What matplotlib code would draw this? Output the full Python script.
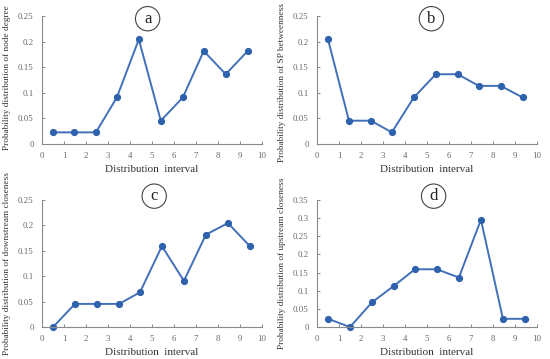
import matplotlib
matplotlib.use("Agg")
import matplotlib.pyplot as plt
from matplotlib.ticker import FormatStrFormatter

# === Data ===
x_ab = [0.5, 1.45, 2.45, 3.4, 4.4, 5.4, 6.4, 7.35, 8.35, 9.35]
x_cd = [0.5, 1.5, 2.5, 3.5, 4.45, 5.45, 6.45, 7.45, 8.45, 9.45]

node_degree = [0.0227, 0.0227, 0.0227, 0.0909, 0.2045, 0.0455, 0.0909, 0.1818, 0.1364, 0.1818]
sp_betweenness = [0.2045, 0.0455, 0.0455, 0.0227, 0.0909, 0.1364, 0.1364, 0.1136, 0.1136, 0.0909]
down_closeness = [0.0, 0.0455, 0.0455, 0.0455, 0.0682, 0.1591, 0.0909, 0.1818, 0.2045, 0.1591]
up_closeness = [0.0227, 0.0, 0.0682, 0.1136, 0.1591, 0.1591, 0.1364, 0.2955, 0.0227, 0.0227]

panels = [
    ("a", x_ab, node_degree, "Probability distribution of node degree", 0.25),
    ("b", x_ab, sp_betweenness, "Probability distribution of SP betweenness", 0.25),
    ("c", x_cd, down_closeness, "Probability distribution of downstream closeness", 0.25),
    ("d", x_cd, up_closeness, "Probability distribution of upstream closeness", 0.35),
]

plt.rcParams["font.family"] = ["Liberation Serif", "DejaVu Serif"]

fig = plt.figure(figsize=(5.5, 3.59), dpi=100)
rects = [
    [0.0764, 0.599, 0.40, 0.356],
    [0.5764, 0.599, 0.40, 0.356],
    [0.0764, 0.089, 0.40, 0.354],
    [0.5764, 0.089, 0.40, 0.354],
]
letter_pos = [(0.48, 0.98), (0.52, 0.98), (0.51, 1.03), (0.53, 1.03)]
ylab_y = [0.52, 0.48, 0.5, 0.5]

axis_col = "#8a8a8a"
line_col = "#4270b8"

for (letter, xs, ys, ylab, ymax), rect, lp, ly in zip(panels, rects, letter_pos, ylab_y):
    ax = fig.add_axes(rect)
    ax.plot(xs, ys, color=line_col, lw=1.4, marker="o", ms=4.2,
            markerfacecolor="#2f62ad", markeredgecolor="#2f62ad", clip_on=False)
    ax.set_xlim(0, 10)
    ax.set_ylim(0, ymax)
    ax.set_xticks(range(0, 11))
    ax.set_yticks([i * 0.05 for i in range(int(round(ymax / 0.05)) + 1)])
    ax.yaxis.set_major_formatter(FormatStrFormatter("%g"))
    for s in ["top", "right"]:
        ax.spines[s].set_visible(False)
    for s in ["left", "bottom"]:
        ax.spines[s].set_color(axis_col)
        ax.spines[s].set_linewidth(0.8)
    ax.tick_params(direction="in", length=2.5, width=0.7, color=axis_col,
                   labelsize=6.3, labelcolor="#666666", pad=6)
    ax.set_xlabel("Distribution  interval", fontsize=8, color="#333333")
    ax.xaxis.set_label_coords(0.5, -0.165)
    ax.set_ylabel(ylab, fontsize=6.7, color="#333333")
    ax.yaxis.set_label_coords(-0.14, ly)
    ax.text(lp[0], lp[1], letter, transform=ax.transAxes, ha="center", va="center",
            fontsize=12, color="#222222",
            bbox=dict(boxstyle="circle,pad=0.25", fc="white", ec="#444444", lw=0.8))

fig.savefig("out.png", dpi=100)
